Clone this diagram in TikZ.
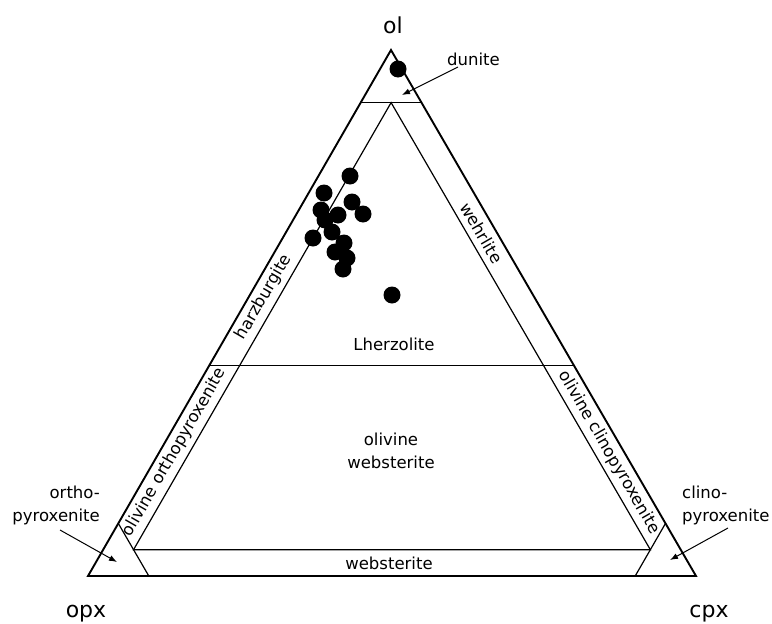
\documentclass[tikz,border=0pt]{standalone}
\usepackage{fontspec}
\setmainfont{DejaVu Sans}
\usetikzlibrary{calc,arrows.meta}
\begin{document}
\begin{tikzpicture}[x=1pt,y=-1pt,
  outer/.style={line width=1.9pt,line join=miter},
  inner/.style={line width=1.2pt},
  lbl/.style={font=\fontsize{16.5}{19}\selectfont,inner sep=0pt},
  corner/.style={font=\fontsize{22}{26}\selectfont,inner sep=0pt},
  pt/.style={fill=black},
  ptr/.style={line width=1pt,-{Latex[length=8pt,width=6pt]}}]
\useasboundingbox (0,0) rectangle (772,624);
\coordinate (A) at (391,50);
\coordinate (B) at (88,576);
\coordinate (C) at (696,576);
% field boundaries
\coordinate (d1) at ($0.9*(A)+0.1*(B)$);
\coordinate (d2) at ($0.9*(A)+0.1*(C)$);
\coordinate (d0) at ($0.9*(A)+0.05*(B)+0.05*(C)$);
\coordinate (p1) at ($0.05*(A)+0.9*(B)+0.05*(C)$);
\coordinate (p2) at ($0.05*(A)+0.05*(B)+0.9*(C)$);
\coordinate (l1) at ($0.4*(A)+0.6*(B)$);
\coordinate (l2) at ($0.4*(A)+0.6*(C)$);
\coordinate (o1) at ($0.1*(A)+0.9*(B)$);
\coordinate (o2) at ($0.9*(B)+0.1*(C)$);
\coordinate (c1) at ($0.1*(A)+0.9*(C)$);
\coordinate (c2) at ($0.1*(B)+0.9*(C)$);
\draw[inner] (d1) -- (d2);
\draw[inner] (l1) -- (l2);
\draw[inner] (d0) -- (p1) -- (p2) -- cycle;
\draw[inner] (o1) -- (o2);
\draw[inner] (c1) -- (c2);
\draw[outer] (A) -- (B) -- (C) -- cycle;
% corner labels
\node[corner,anchor=base] (ol) at (393,33) {ol};
\node[corner,anchor=base] (opx) at (86,617) {opx};
\node[corner,anchor=base] (cpx) at (709,617) {cpx};
% field labels
\node[lbl,anchor=base] (lhz) at (394,350) {Lherzolite};
\node[lbl,anchor=base] (olw1) at (391,445) {olivine};
\node[lbl,anchor=base] (olw2) at (391,468) {websterite};
\node[lbl,anchor=base] (web) at (389,569) {websterite};
\node[lbl,rotate=60] (hzb) at ($0.53*(A)+0.445*(B)+0.025*(C)$) {harzburgite};
\node[lbl,rotate=-60] (wehr) at ($0.652*(A)+0.025*(B)+0.323*(C)$) {wehrlite};
\node[lbl,rotate=60] (oopx) at ($0.235*(A)+0.74*(B)+0.025*(C)$) {olivine orthopyroxenite};
\node[lbl,rotate=-60] (ocpx) at ($0.235*(A)+0.025*(B)+0.74*(C)$) {olivine clinopyroxenite};
% pointer labels
\node[lbl,anchor=base west] (dun) at (447,65) {dunite};
\node[lbl,anchor=base east] (orth1) at (100,498) {ortho-};
\node[lbl,anchor=base east] (orth2) at (100,521) {pyroxenite};
\node[lbl,anchor=base west] (clin1) at (682,498) {clino-};
\node[lbl,anchor=base west] (clin2) at (682,521) {pyroxenite};
\coordinate (dunT) at (458,67);
\coordinate (dunH) at (402,95);
\coordinate (ortT) at (60,530);
\coordinate (ortH) at (117,562);
\coordinate (cliT) at (728,528);
\coordinate (cliH) at (670,560);
\draw[ptr] (dunT) -- (dunH);
\draw[ptr] (ortT) -- (ortH);
\draw[ptr] (cliT) -- (cliH);
% samples
\foreach \px/\py in {398/69, 350/176, 324/193, 321/210, 352/202, 363/214, 338/215, 325/220, 313/238, 332/232, 344/243, 335/252, 347/258, 343/269, 392/295}
  \fill[pt] (\px,\py) circle (8.5);
\end{tikzpicture}
\end{document}
